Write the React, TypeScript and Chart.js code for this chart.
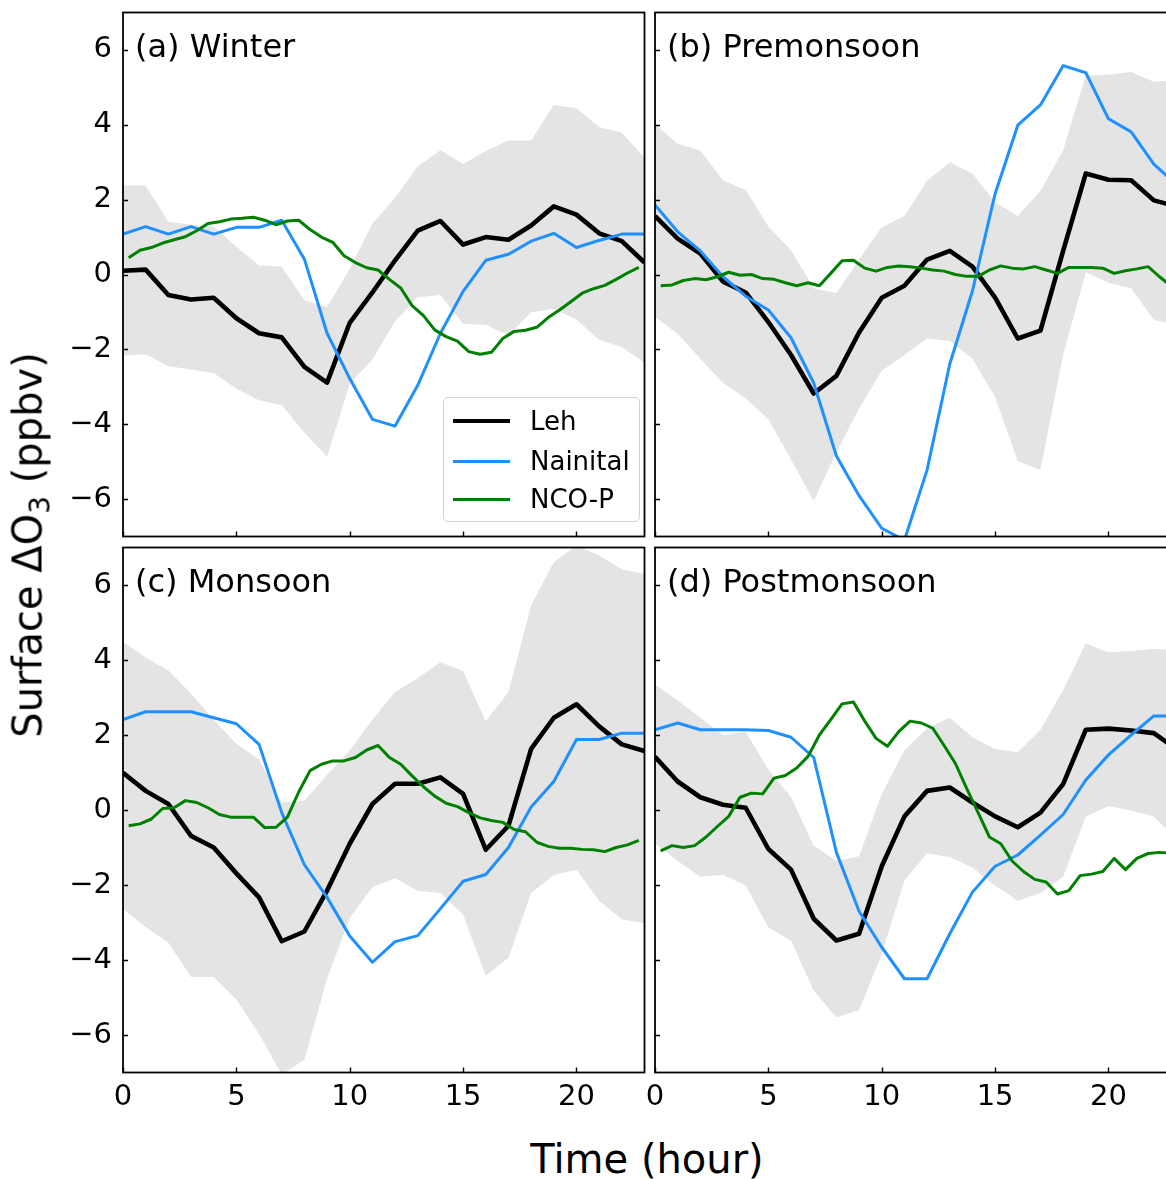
import React, { useEffect, useRef } from 'react';
import { Chart, registerables } from 'chart.js';

Chart.register(...registerables);

// ---------- data ----------
const HOURS = [0, 1, 2, 3, 4, 5, 6, 7, 8, 9, 10, 11, 12, 13, 14, 15, 16, 17, 18, 19, 20, 21, 22, 23];
const NCO_HOURS = [
  0.25, 0.75, 1.25, 1.75, 2.25, 2.75, 3.25, 3.75, 4.25, 4.75, 5.25, 5.75, 6.25, 6.75, 7.25, 7.75,
  8.25, 8.75, 9.25, 9.75, 10.25, 10.75, 11.25, 11.75, 12.25, 12.75, 13.25, 13.75, 14.25, 14.75,
  15.25, 15.75, 16.25, 16.75, 17.25, 17.75, 18.25, 18.75, 19.25, 19.75, 20.25, 20.75, 21.25, 21.75,
  22.25, 22.75,
];
const X_TICKS = [0, 5, 10, 15, 20];
const Y_TICKS = [-6, -4, -2, 0, 2, 4, 6];

// (a) Winter
const WINTER_LEH = [0.10, 0.13, -0.55, -0.67, -0.62, -1.17, -1.57, -1.68, -2.47, -2.89, -1.29, -0.48, 0.38, 1.17, 1.43, 0.80, 1.00, 0.93, 1.31, 1.82, 1.60, 1.10, 0.89, 0.32];
const WINTER_NAINITAL = [1.08, 1.28, 1.08, 1.28, 1.08, 1.26, 1.26, 1.45, 0.41, -1.57, -2.78, -3.87, -4.05, -2.96, -1.57, -0.45, 0.38, 0.54, 0.89, 1.10, 0.72, 0.91, 1.08, 1.08];
const WINTER_NCOP = [
  0.45, 0.65, 0.72, 0.84, 0.93, 1.01, 1.17, 1.36, 1.41, 1.48,
  1.50, 1.53, 1.45, 1.33, 1.43, 1.45, 1.20, 1.00, 0.86, 0.50,
  0.32, 0.18, 0.12, -0.13, -0.36, -0.83, -1.10, -1.48, -1.66, -1.78,
  -2.06, -2.13, -2.08, -1.71, -1.52, -1.49, -1.41, -1.15, -0.95, -0.73,
  -0.50, -0.38, -0.29, -0.13, 0.04, 0.19,
];
const WINTER_HIGH = [2.38, 2.38, 1.41, 1.33, 1.28, 0.74, 0.25, 0.21, -0.69, -0.87, 0.15, 1.36, 2.05, 2.89, 3.32, 2.95, 3.30, 3.58, 3.58, 4.53, 4.44, 3.94, 3.79, 3.12];
const WINTER_LOW = [-2.17, -2.13, -2.45, -2.54, -2.63, -3.05, -3.36, -3.49, -4.22, -4.87, -2.92, -2.27, -1.25, -0.61, -0.55, -1.32, -1.34, -1.62, -1.01, -0.92, -1.20, -1.75, -1.94, -2.36];

// (b) Premonsoon
const PRE_LEH = [1.56, 0.96, 0.56, -0.19, -0.48, -1.27, -2.15, -3.18, -2.71, -1.55, -0.62, -0.30, 0.40, 0.63, 0.21, -0.62, -1.71, -1.50, 0.63, 2.70, 2.53, 2.52, 1.98, 1.82];
const PRE_NAINITAL = [1.86, 1.14, 0.63, -0.06, -0.58, -0.95, -1.69, -2.90, -4.85, -5.91, -6.78, -7.10, -5.22, -2.39, -0.44, 2.16, 3.99, 4.53, 5.58, 5.39, 4.16, 3.81, 2.95, 2.40];
const PRE_NCOP = [
  -0.30, -0.28, -0.16, -0.11, -0.14, -0.06, 0.06, -0.02, 0.00, -0.11,
  -0.13, -0.22, -0.30, -0.22, -0.30, 0.03, 0.37, 0.38, 0.17, 0.09,
  0.19, 0.23, 0.21, 0.17, 0.12, 0.09, 0.00, -0.05, -0.05, 0.12,
  0.23, 0.17, 0.15, 0.21, 0.12, 0.03, 0.19, 0.19, 0.19, 0.17,
  0.03, 0.10, 0.15, 0.21, -0.06, -0.30,
];
const PRE_HIGH = [4.02, 3.49, 3.31, 2.51, 2.26, 1.28, 0.65, -0.37, -0.50, 0.40, 1.26, 1.56, 2.51, 3.00, 2.69, 1.93, 1.56, 2.23, 3.32, 5.32, 5.34, 5.41, 5.15, 5.18];
const PRE_LOW = [-1.13, -1.58, -2.25, -2.90, -3.31, -3.87, -4.94, -6.05, -4.75, -3.59, -2.57, -2.15, -1.71, -1.78, -2.25, -3.27, -4.99, -5.22, -2.15, 0.06, -0.22, -0.37, -1.21, -1.35];

// (c) Monsoon
const MON_LEH = [0.99, 0.51, 0.16, -0.69, -1.00, -1.69, -2.33, -3.50, -3.24, -2.15, -0.90, 0.16, 0.70, 0.70, 0.87, 0.43, -1.06, -0.42, 1.63, 2.46, 2.82, 2.23, 1.75, 1.57];
const MON_NAINITAL = [2.41, 2.62, 2.62, 2.62, 2.46, 2.30, 1.75, -0.07, -1.46, -2.33, -3.36, -4.06, -3.51, -3.35, -2.63, -1.90, -1.72, -1.00, 0.08, 0.76, 1.88, 1.88, 2.05, 2.05];
const MON_NCOP = [
  -0.42, -0.37, -0.24, 0.04, 0.06, 0.25, 0.20, 0.06, -0.12, -0.19,
  -0.19, -0.19, -0.47, -0.46, -0.19, 0.48, 1.05, 1.22, 1.31, 1.31,
  1.40, 1.60, 1.72, 1.40, 1.22, 0.91, 0.62, 0.37, 0.18, 0.09,
  -0.07, -0.21, -0.28, -0.33, -0.52, -0.58, -0.86, -0.97, -1.02, -1.02,
  -1.05, -1.06, -1.11, -1.00, -0.93, -0.81,
];
const MON_HIGH = [4.49, 4.07, 3.72, 3.11, 2.41, 1.77, 1.35, 0.20, 0.25, 0.94, 1.59, 2.41, 3.15, 3.52, 3.94, 3.71, 2.37, 3.15, 5.46, 6.61, 7.05, 6.79, 6.42, 6.29];
const MON_LOW = [-2.64, -3.12, -3.53, -4.45, -4.45, -5.05, -5.97, -7.05, -6.66, -4.50, -2.88, -2.06, -1.82, -2.15, -2.21, -2.79, -4.42, -3.94, -2.21, -1.73, -1.59, -2.42, -2.91, -3.02];

// (d) Postmonsoon
const POST_LEH = [1.42, 0.76, 0.34, 0.14, 0.06, -1.04, -1.59, -2.90, -3.48, -3.30, -1.50, -0.17, 0.51, 0.60, 0.20, -0.17, -0.46, -0.07, 0.69, 2.14, 2.17, 2.12, 2.05, 1.62];
const POST_NAINITAL = [2.14, 2.32, 2.14, 2.14, 2.14, 2.12, 1.94, 1.40, -1.13, -2.70, -3.66, -4.50, -4.50, -3.30, -2.19, -1.50, -1.20, -0.67, -0.12, 0.80, 1.47, 2.00, 2.51, 2.51];
const POST_NCOP = [
  -1.09, -0.95, -1.00, -0.95, -0.72, -0.44, -0.17, 0.34, 0.45, 0.43,
  0.85, 0.92, 1.12, 1.43, 2.00, 2.41, 2.83, 2.88, 2.37, 1.91,
  1.70, 2.09, 2.37, 2.32, 2.18, 1.72, 1.24, 0.57, -0.07, -0.72,
  -0.90, -1.36, -1.64, -1.85, -1.92, -2.24, -2.15, -1.75, -1.71, -1.64,
  -1.29, -1.59, -1.29, -1.16, -1.13, -1.15,
];
const POST_HIGH = [3.34, 2.92, 2.46, 2.00, 2.09, 1.08, 0.34, -0.95, -1.36, -1.23, 0.43, 1.59, 2.18, 2.46, 1.94, 1.63, 1.54, 2.14, 3.20, 4.44, 4.21, 4.24, 4.30, 4.25];
const POST_LOW = [-0.90, -1.36, -1.78, -1.73, -2.01, -3.13, -3.48, -4.82, -5.53, -5.33, -3.85, -1.87, -1.16, -1.25, -1.53, -2.01, -2.42, -2.21, -1.78, -0.17, 0.11, -0.01, -0.17, -0.77];

const SERIES_LABELS = ['Leh', 'Nainital', 'NCO-P'];
const PANEL_TITLES = ['(a) Winter', '(b) Premonsoon', '(c) Monsoon', '(d) Postmonsoon'];

// ---------- styling ----------
const FONT = "'DejaVu Sans', 'Liberation Sans', sans-serif";
const COLOR_LEH = '#000000';
const COLOR_NAINITAL = '#1e90ff';
const COLOR_NCOP = '#008000';
const COLOR_BAND = '#e4e4e4';

const fmt = (v: number) => (v < 0 ? '\u2212' + Math.abs(v) : String(v));

const frameTicksPlugin = {
  id: 'frameTicks',
  afterDatasetsDraw(chart: any) {
    const { ctx, chartArea, scales } = chart;
    const { left, right, top, bottom } = chartArea;
    ctx.save();
    ctx.strokeStyle = '#000';
    ctx.lineWidth = 1.4;
    ctx.beginPath();
    X_TICKS.forEach((v) => {
      const px = Math.round(scales.x.getPixelForValue(v)) + 0.5;
      ctx.moveTo(px, bottom);
      ctx.lineTo(px, bottom - 5);
    });
    Y_TICKS.forEach((v) => {
      const py = Math.round(scales.y.getPixelForValue(v)) + 0.5;
      ctx.moveTo(left, py);
      ctx.lineTo(left + 5, py);
    });
    ctx.stroke();
    ctx.lineWidth = 1.8;
    ctx.strokeRect(left, top, right - left, bottom - top);
    ctx.restore();
  },
};

type PanelProps = {
  leh: number[];
  nainital: number[];
  ncop: number[];
  low: number[];
  high: number[];
  box: { left: number; top: number; w: number; h: number };
  yW: number;
  xH: number;
  pad: { top: number; right: number; left: number; bottom: number };
  showX: boolean;
  showY: boolean;
};

function Panel(p: PanelProps) {
  const ref = useRef<HTMLCanvasElement>(null);
  useEffect(() => {
    const toPts = (xs: number[], ys: number[]) => xs.map((x, i) => ({ x, y: ys[i] }));
    const tickFont = { family: FONT, size: 29 };
    const chart = new Chart(ref.current as HTMLCanvasElement, {
      type: 'line',
      data: {
        datasets: [
          {
            label: SERIES_LABELS[2],
            data: toPts(NCO_HOURS, p.ncop),
            borderColor: COLOR_NCOP,
            borderWidth: 3,
            pointRadius: 0,
            fill: false,
            tension: 0,
            borderJoinStyle: 'round',
          },
          {
            label: SERIES_LABELS[1],
            data: toPts(HOURS, p.nainital),
            borderColor: COLOR_NAINITAL,
            borderWidth: 3,
            pointRadius: 0,
            fill: false,
            tension: 0,
            borderJoinStyle: 'round',
          },
          {
            label: SERIES_LABELS[0],
            data: toPts(HOURS, p.leh),
            borderColor: COLOR_LEH,
            borderWidth: 4.6,
            pointRadius: 0,
            fill: false,
            tension: 0,
            borderJoinStyle: 'round',
          },
          {
            label: 'range-low',
            data: toPts(HOURS, p.low),
            borderColor: 'rgba(0,0,0,0)',
            borderWidth: 0,
            pointRadius: 0,
            fill: false,
            tension: 0,
          },
          {
            label: 'range-high',
            data: toPts(HOURS, p.high),
            borderColor: 'rgba(0,0,0,0)',
            borderWidth: 0,
            pointRadius: 0,
            backgroundColor: COLOR_BAND,
            fill: '-1',
            tension: 0,
          },
        ],
      },
      options: {
        animation: false,
        responsive: false,
        maintainAspectRatio: false,
        events: [],
        layout: { padding: p.pad },
        plugins: { legend: { display: false }, tooltip: { enabled: false } },
        scales: {
          x: {
            type: 'linear',
            min: 0,
            max: 23,
            grid: { display: false, drawTicks: false },
            border: { display: false },
            afterBuildTicks: (s: any) => {
              s.ticks = X_TICKS.map((v) => ({ value: v }));
            },
            afterFit: (s: any) => {
              s.height = p.xH;
              s.paddingLeft = 0;
              s.paddingRight = 0;
              s.paddingTop = 0;
              s.paddingBottom = 0;
            },
            ticks: {
              display: p.showX,
              padding: 8,
              color: '#000',
              font: tickFont,
              maxRotation: 0,
              autoSkip: false,
              callback: (v: any) => fmt(Number(v)),
            },
          },
          y: {
            type: 'linear',
            min: -7,
            max: 7,
            grid: { display: false, drawTicks: false },
            border: { display: false },
            afterBuildTicks: (s: any) => {
              s.ticks = Y_TICKS.map((v) => ({ value: v }));
            },
            afterFit: (s: any) => {
              s.width = p.yW;
              s.paddingLeft = 0;
              s.paddingRight = 0;
              s.paddingTop = 0;
              s.paddingBottom = 0;
            },
            ticks: {
              display: p.showY,
              padding: 11,
              color: '#000',
              font: tickFont,
              autoSkip: false,
              callback: (v: any) => fmt(Number(v)),
            },
          },
        },
      } as any,
      plugins: [frameTicksPlugin],
    } as any);
    return () => chart.destroy();
  }, []);
  return (
    <canvas
      ref={ref}
      width={p.box.w}
      height={p.box.h}
      style={{ position: 'absolute', left: p.box.left, top: p.box.top, width: p.box.w, height: p.box.h }}
    />
  );
}

const textBase: React.CSSProperties = {
  position: 'absolute',
  fontFamily: FONT,
  color: '#000',
  whiteSpace: 'nowrap',
};

function Title({ text, left, baseline }: { text: string; left: number; baseline: number }) {
  return (
    <div style={{ ...textBase, left, top: baseline - 27.1, fontSize: 32, lineHeight: '32px' }}>{text}</div>
  );
}

function Legend() {
  const rows = [
    { label: SERIES_LABELS[0], color: COLOR_LEH, w: 4.6, cy: 23 },
    { label: SERIES_LABELS[1], color: COLOR_NAINITAL, w: 3, cy: 63 },
    { label: SERIES_LABELS[2], color: COLOR_NCOP, w: 3, cy: 101 },
  ];
  return (
    <div
      style={{
        position: 'absolute',
        left: 443,
        top: 397,
        width: 197,
        height: 125,
        boxSizing: 'border-box',
        border: '1.5px solid #d0d0d0',
        borderRadius: 5,
        background: 'rgba(255,255,255,0.8)',
      }}
    >
      {rows.map((r) => (
        <React.Fragment key={r.label}>
          <div
            style={{
              position: 'absolute',
              left: 9,
              top: r.cy - r.w / 2,
              width: 57,
              height: r.w,
              background: r.color,
            }}
          />
          <div style={{ ...textBase, left: 86, top: r.cy - 15, fontSize: 26, lineHeight: '30px' }}>{r.label}</div>
        </React.Fragment>
      ))}
    </div>
  );
}

export default function App() {
  return (
    <div
      style={{
        position: 'absolute',
        left: 0,
        top: 0,
        width: 1166,
        height: 1180,
        overflow: 'hidden',
        background: '#fff',
      }}
    >
      <Panel
        leh={WINTER_LEH}
        nainital={WINTER_NAINITAL}
        ncop={WINTER_NCOP}
        low={WINTER_LOW}
        high={WINTER_HIGH}
        box={{ left: 0, top: 0, w: 650, h: 545 }}
        yW={123}
        xH={8.5}
        pad={{ top: 12.5, right: 5.5, left: 0, bottom: 0 }}
        showX={false}
        showY={true}
      />
      <Panel
        leh={PRE_LEH}
        nainital={PRE_NAINITAL}
        ncop={PRE_NCOP}
        low={PRE_LOW}
        high={PRE_HIGH}
        box={{ left: 640, top: 0, w: 545, h: 545 }}
        yW={15}
        xH={8.5}
        pad={{ top: 12.5, right: 8.5, left: 0, bottom: 0 }}
        showX={false}
        showY={false}
      />
      <Panel
        leh={MON_LEH}
        nainital={MON_NAINITAL}
        ncop={MON_NCOP}
        low={MON_LOW}
        high={MON_HIGH}
        box={{ left: 0, top: 545, w: 650, h: 565 }}
        yW={123}
        xH={37.5}
        pad={{ top: 2.5, right: 5.5, left: 0, bottom: 0 }}
        showX={true}
        showY={true}
      />
      <Panel
        leh={POST_LEH}
        nainital={POST_NAINITAL}
        ncop={POST_NCOP}
        low={POST_LOW}
        high={POST_HIGH}
        box={{ left: 640, top: 545, w: 545, h: 565 }}
        yW={15}
        xH={37.5}
        pad={{ top: 2.5, right: 8.5, left: 0, bottom: 0 }}
        showX={true}
        showY={false}
      />
      <Title text={PANEL_TITLES[0]} left={135} baseline={57} />
      <Title text={PANEL_TITLES[1]} left={667} baseline={57} />
      <Title text={PANEL_TITLES[2]} left={135} baseline={592} />
      <Title text={PANEL_TITLES[3]} left={667} baseline={592} />
      <Legend />
      <div
        style={{
          ...textBase,
          left: 30,
          top: 545,
          fontSize: 40,
          lineHeight: '40px',
          transform: 'translate(-50%, -50%) rotate(-90deg)',
        }}
      >
        Surface ΔO
        <span style={{ fontSize: '0.7em', position: 'relative', top: '0.3em' }}>3</span> (ppbv)
      </div>
      <div
        style={{
          ...textBase,
          left: 647,
          top: 1139,
          fontSize: 40,
          lineHeight: '40px',
          transform: 'translateX(-50%)',
        }}
      >
        Time (hour)
      </div>
    </div>
  );
}
